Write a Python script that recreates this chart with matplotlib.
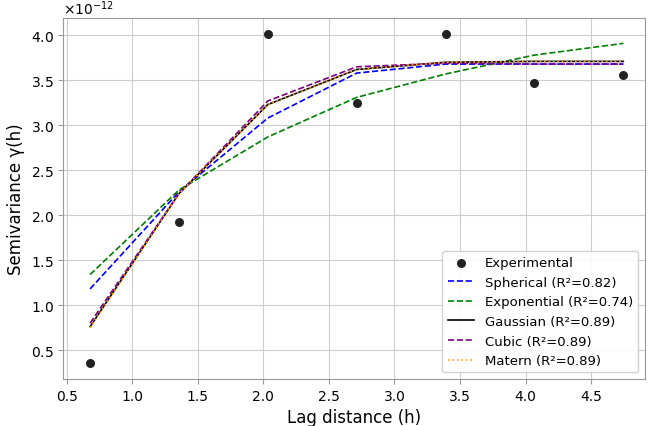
import matplotlib
matplotlib.use("Agg")
import matplotlib.pyplot as plt
from matplotlib.ticker import ScalarFormatter

# lag distances and semivariance values (x1e-12)
lags = [0.678, 1.356, 2.034, 2.712, 3.390, 4.068, 4.746]
experimental = [0.36, 1.92, 4.01, 3.25, 4.01, 3.47, 3.56]
spherical = [1.18, 2.26, 3.08, 3.58, 3.68, 3.68, 3.68]
exponential = [1.34, 2.28, 2.87, 3.31, 3.57, 3.78, 3.91]
gaussian = [0.76, 2.24, 3.23, 3.62, 3.70, 3.71, 3.71]
cubic = [0.80, 2.24, 3.27, 3.65, 3.69, 3.68, 3.68]
matern = [0.75, 2.24, 3.23, 3.62, 3.70, 3.71, 3.71]

scale = 1e-12
def sc(v):
    return [a * scale for a in v]

fig, ax = plt.subplots(figsize=(6.6, 4.27), dpi=100)

ax.scatter(lags, sc(experimental), color="#222222", s=30, zorder=5, label="Experimental")
ax.plot(lags, sc(spherical), color="blue", linestyle="--", lw=1.2, label="Spherical (R²=0.82)")
ax.plot(lags, sc(exponential), color="green", linestyle="--", lw=1.2, label="Exponential (R²=0.74)")
ax.plot(lags, sc(gaussian), color="black", linestyle="-", lw=1.2, label="Gaussian (R²=0.89)")
ax.plot(lags, sc(cubic), color="purple", linestyle="--", lw=1.2, label="Cubic (R²=0.89)")
ax.plot(lags, sc(matern), color="orange", linestyle=":", lw=1.2, label="Matern (R²=0.89)")

ax.set_xlim(0.474, 4.91)
ax.set_ylim(0.178e-12, 4.19e-12)
ax.set_xticks([0.5, 1.0, 1.5, 2.0, 2.5, 3.0, 3.5, 4.0, 4.5])
ax.set_yticks([y * scale for y in [0.5, 1.0, 1.5, 2.0, 2.5, 3.0, 3.5, 4.0]])

fmt = ScalarFormatter(useMathText=True)
fmt.set_powerlimits((0, 0))
ax.yaxis.set_major_formatter(fmt)

ax.grid(True, color="#cccccc", lw=0.8)
ax.set_axisbelow(True)
for s in ax.spines.values():
    s.set_color("#999999")
ax.tick_params(colors="#999999", labelcolor="black", labelsize=10)
ax.yaxis.get_offset_text().set_fontsize(10)

ax.set_xlabel("Lag distance (h)", fontsize=12)
ax.set_ylabel("Semivariance γ(h)", fontsize=12)
ax.legend(loc="lower right", fontsize=9.5, framealpha=0.9)

fig.subplots_adjust(left=0.096, right=0.977, top=0.955, bottom=0.11)
fig.savefig("out.png", dpi=100)
